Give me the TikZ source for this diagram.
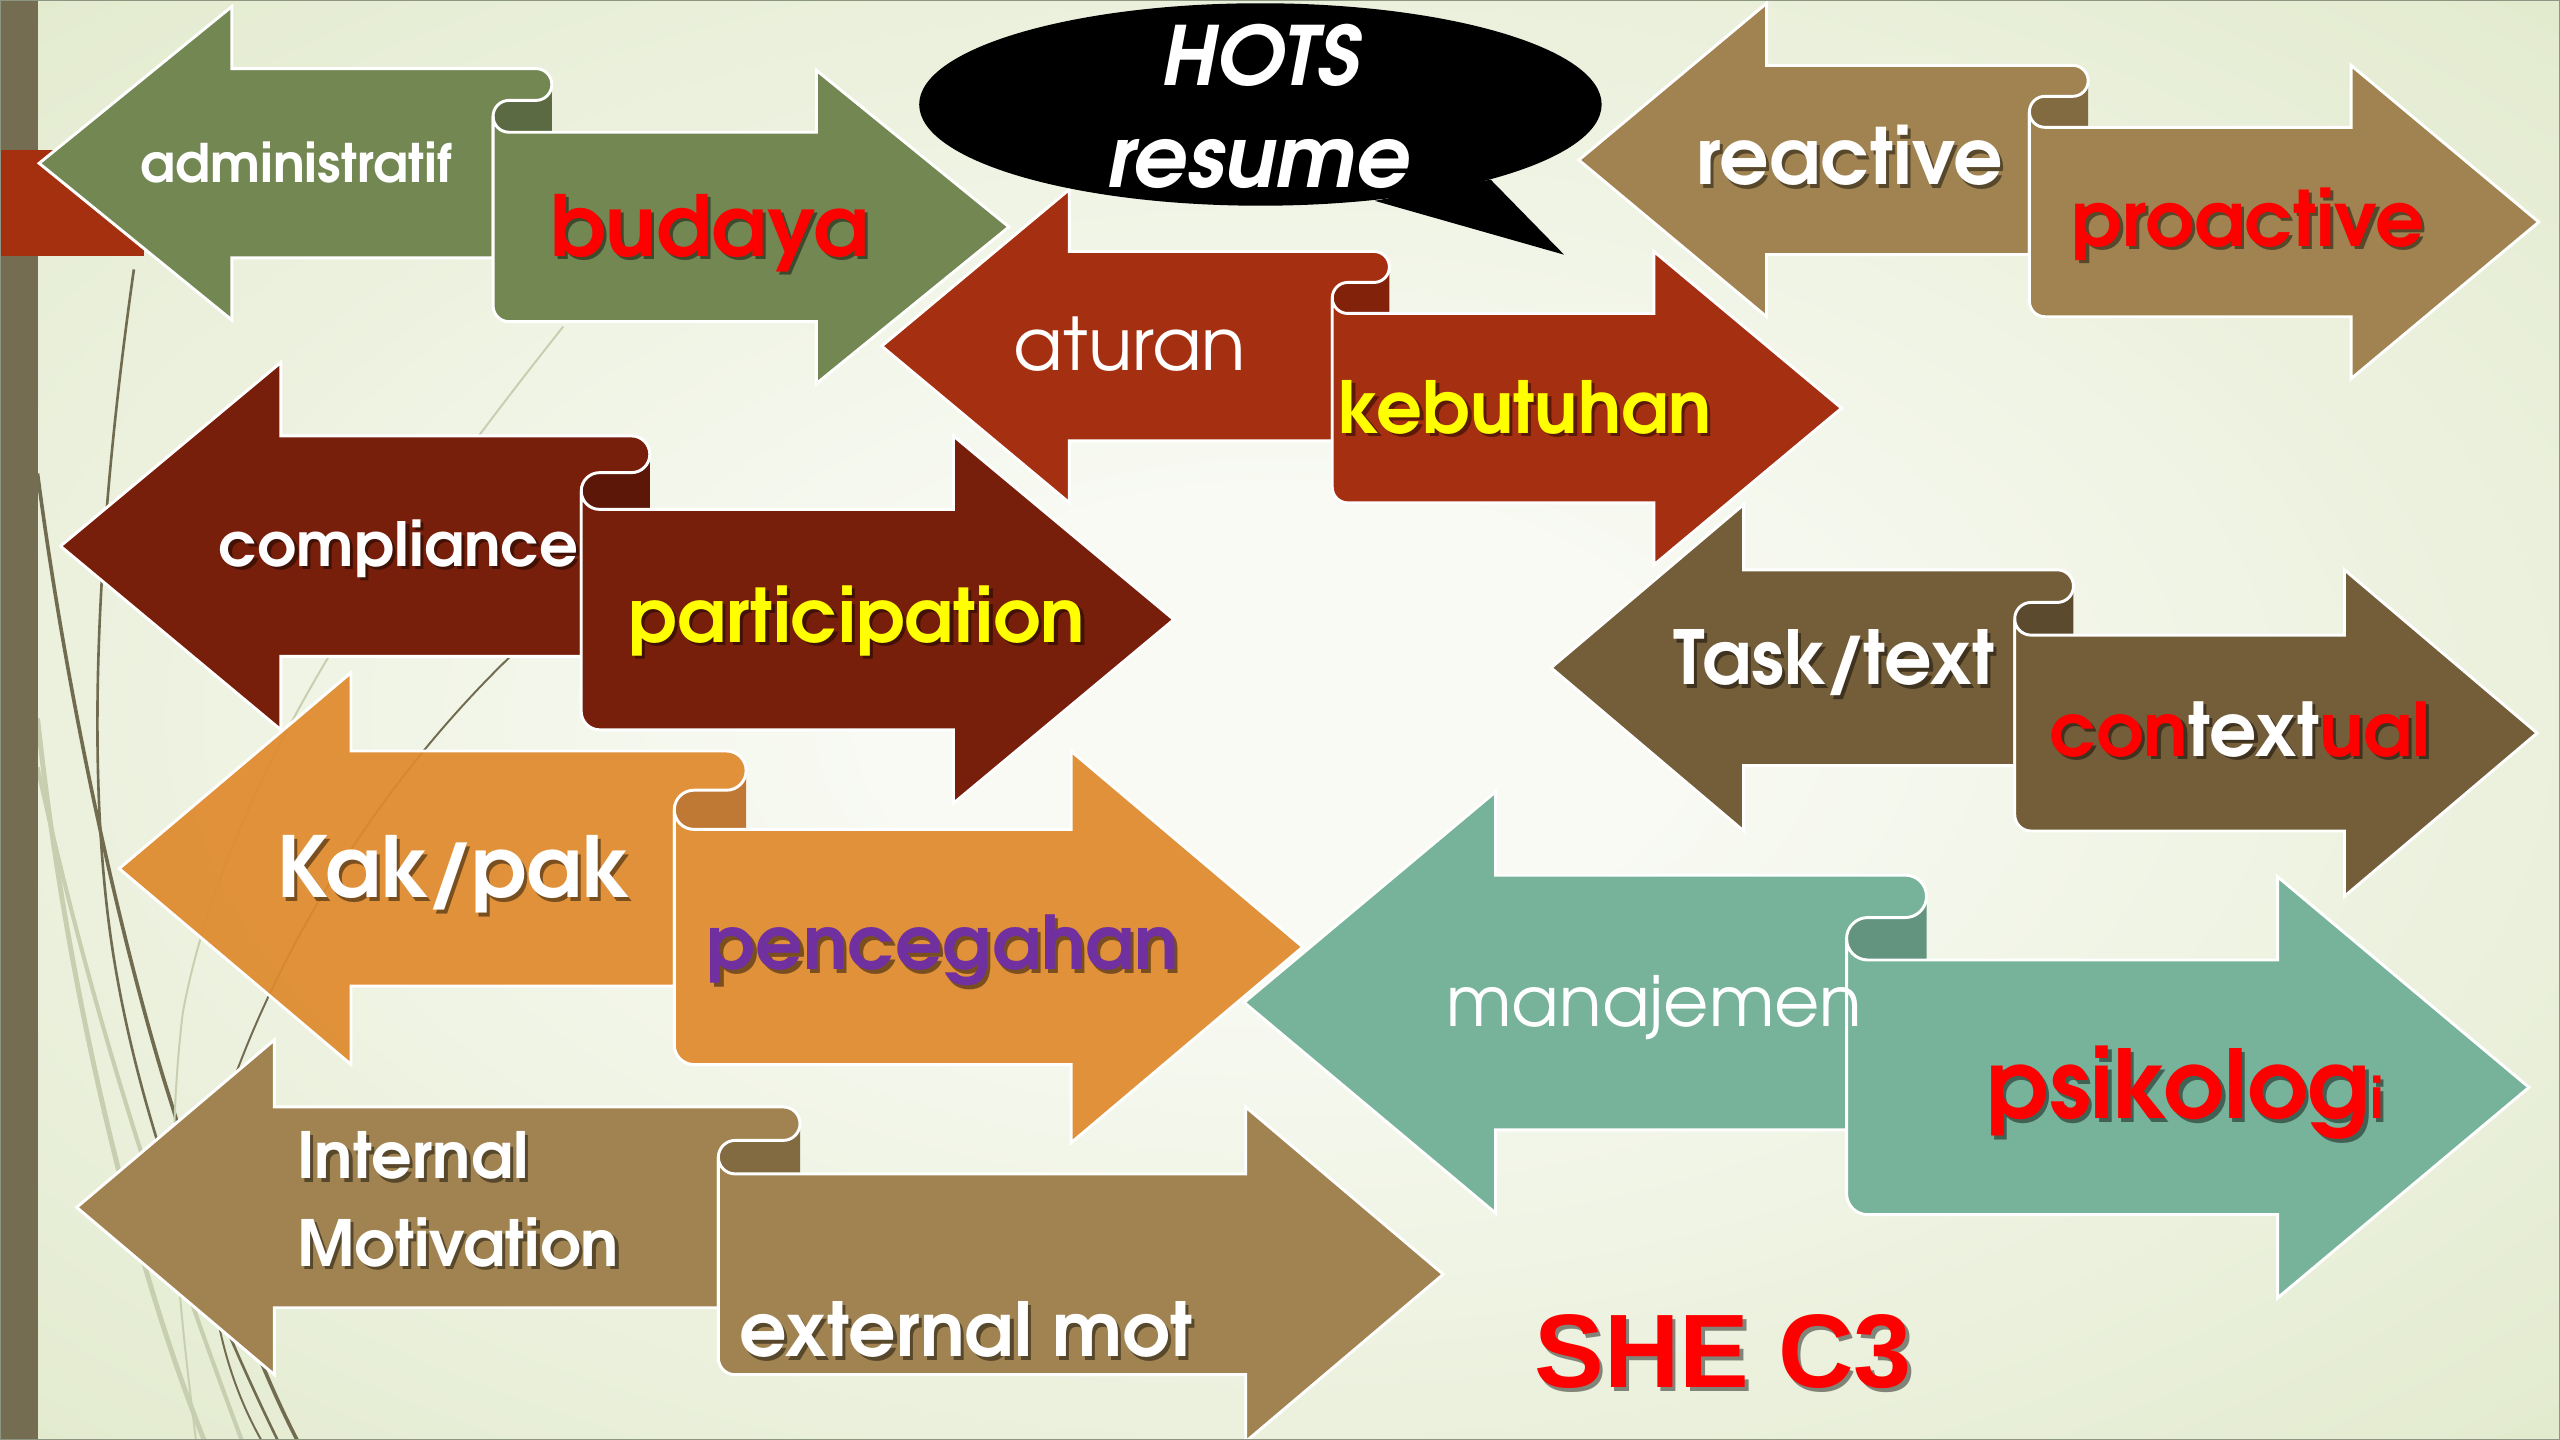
\documentclass[tikz,border=0pt]{standalone}
\usepackage{fontspec}
\setmainfont{texgyreadventor}[Extension=.otf, UprightFont=*-regular, BoldFont=*-bold, ItalicFont=*-italic, BoldItalicFont=*-bolditalic]
\newfontfamily\arialfont{Liberation Sans}

% palette
\definecolor{bgin}{HTML}{F8FAF3}
\definecolor{bgout}{HTML}{DFE8C8}
\definecolor{band}{HTML}{756D52}
\definecolor{tabred}{HTML}{A5300F}
\definecolor{wispdark}{HTML}{716B50}
\definecolor{wisplight}{HTML}{C8CEB0}
\definecolor{grnF}{HTML}{738753}\definecolor{grnB}{HTML}{5B6A42}
\definecolor{rstF}{HTML}{A52F11}\definecolor{rstB}{HTML}{82220B}
\definecolor{marF}{HTML}{781F0B}\definecolor{marB}{HTML}{5C1708}
\definecolor{orgF}{HTML}{DF8A2D}\definecolor{orgB}{HTML}{BC7026}
\definecolor{tanF}{HTML}{A08350}\definecolor{tanB}{HTML}{826A41}
\definecolor{brnF}{HTML}{745E39}\definecolor{brnB}{HTML}{5B4A2E}
\definecolor{tealF}{HTML}{77B29A}\definecolor{tealB}{HTML}{62947F}
\definecolor{txtred}{HTML}{FF0000}
\definecolor{txtyel}{HTML}{FFFF00}
\definecolor{txtpur}{HTML}{7030A0}
\definecolor{frame}{HTML}{8C9680}
\colorlet{pf}{grnF}\colorlet{pb}{grnB}

\pgfdeclareradialshading{bgshade}{\pgfpoint{0bp}{0bp}}{color(0bp)=(bgin); color(8bp)=(bgin); color(40bp)=(bgout); color(50bp)=(bgout)}

\tikzset{
  pairfront/.style={fill=pf, fill opacity=\pairop, draw=white, line width=1.8pt, line join=miter},
  pairback/.style={fill=pb, fill opacity=\pairop},
  lbl/.style={inner sep=0pt, outer sep=0pt, anchor=base west},
  shadowed/.style={text=black, text opacity=0.45},
}
\def\pairop{1}

% Opposing arrow pair joined by a rolled scroll:
% #1 left tip x, #2 head length, #3 roll left x, #4 cap right x,
% #5 right head base x, #6 left shaft top y, #7 shaft height,
% #8 vertical offset of the right shaft, #9 head overhang
\newcommand\ScrollPair[9]{%
  \pgfmathsetmacro\pXl{#1}%
  \pgfmathsetmacro\pXlh{#1+#2}%
  \pgfmathsetmacro\pXc{#3}%
  \pgfmathsetmacro\pXr{#4}%
  \pgfmathsetmacro\pXrh{#5}%
  \pgfmathsetmacro\pXt{#5+#2}%
  \pgfmathsetmacro\pYa{#6}%
  \pgfmathsetmacro\pYb{#6+#7}%
  \pgfmathsetmacro\pYm{#6+#7/2}%
  \pgfmathsetmacro\pYc{#6+#8}%
  \pgfmathsetmacro\pYd{#6+#8+#7}%
  \pgfmathsetmacro\pYn{#6+#8+#7/2}%
  \pgfmathsetmacro\pR{#8/4}%
  \pgfmathsetmacro\pE{#9}%
  % inside of the roll
  \path[pairback] ({\pXc+\pR},{\pYa+2*\pR}) arc[start angle=-90,end angle=-270,radius=\pR]
     -- (\pXr,\pYc) -- (\pXr,{\pYa+\pR}) arc[start angle=0,end angle=90,radius=\pR] -- cycle;
  % left-pointing arrow with its rolled end
  \path[pairfront] (\pXl,\pYm) -- (\pXlh,{\pYa-\pE}) -- (\pXlh,\pYa)
     -- ({\pXr-\pR},\pYa) arc[start angle=-90,end angle=90,radius=\pR]
     -- ({\pXc+\pR},{\pYa+2*\pR}) arc[start angle=-90,end angle=-180,radius=\pR]
     -- (\pXc,\pYb) -- (\pXlh,\pYb) -- (\pXlh,{\pYb+\pE}) -- cycle;
  % right-pointing arrow
  \path[pairfront] (\pXc,{\pYa+3*\pR}) -- (\pXc,{\pYd-\pR}) arc[start angle=180,end angle=90,radius=\pR]
     -- (\pXrh,\pYd) -- (\pXrh,{\pYd+\pE}) -- (\pXt,\pYn) -- (\pXrh,{\pYc-\pE}) -- (\pXrh,\pYc)
     -- ({\pXc+\pR},\pYc) arc[start angle=90,end angle=180,radius=\pR] -- cycle;
}

% text with a soft drop shadow: name, x, y, style, text
\newcommand\ShText[5]{%
  \node[lbl,#4,shadowed] (#1-shadow) at ({#2+2},{#3+2}) {#5};
  \node[lbl,#4] (#1) at (#2,#3) {#5};
}

\begin{document}
\begin{tikzpicture}[x=1pt,y=-1pt]
\useasboundingbox (0,0) rectangle (1568,882);

% background
\shade[shading=bgshade] (0,0) rectangle (1568,882);

% wisps along the left side
\draw[wispdark, line width=1.6pt] (82,165) .. controls (60,320) and (50,480) .. (72,600) .. controls (90,700) and (130,800) .. (170,882);
\draw[wispdark, line width=2.2pt] (23,290) .. controls (40,420) and (70,560) .. (100,660) .. controls (125,740) and (150,820) .. (182,882);
\draw[wisplight, line width=3pt] (23,440) .. controls (40,600) and (80,770) .. (125,882);
\draw[wisplight, line width=2.5pt] (23,470) .. controls (60,640) and (110,780) .. (148,882);
\draw[wisplight, line width=1.2pt] (345,200) .. controls (250,320) and (140,470) .. (112,620) .. controls (100,720) and (110,800) .. (120,882);
\draw[wispdark, line width=1.2pt] (320,395) .. controls (240,470) and (175,570) .. (140,670) .. controls (120,740) and (125,820) .. (160,882);

% side band and tab
\fill[band] (0,0) rectangle (23,882);
\fill[tabred] (0,92) rectangle (88,157);

% arrow pairs
\colorlet{pf}{grnF}\colorlet{pb}{grnB}
\ScrollPair{24}{118}{302}{338}{500}{42}{116}{39}{38}
\colorlet{pf}{rstF}\colorlet{pb}{rstB}
\ScrollPair{540}{115}{816}{851}{1013}{154}{116}{38}{38}
\colorlet{pf}{marF}\colorlet{pb}{marB}
\ScrollPair{37}{135}{356}{398}{584}{267}{135}{45}{45}
\def\pairop{0.93}
\colorlet{pf}{orgF}\colorlet{pb}{orgB}
\ScrollPair{73}{142}{413}{457}{656}{460}{144}{48}{48}
\def\pairop{1}
\colorlet{pf}{tanF}\colorlet{pb}{tanB}
\ScrollPair{47}{121}{440}{490}{763}{678}{123}{41}{41}
\colorlet{pf}{tanF}\colorlet{pb}{tanB}
\ScrollPair{967}{115}{1243}{1279}{1440}{40}{116}{38}{38}
\colorlet{pf}{brnF}\colorlet{pb}{brnB}
\ScrollPair{950}{118}{1234}{1270}{1436}{349}{120}{40}{40}
\colorlet{pf}{tealF}\colorlet{pb}{tealB}
\ScrollPair{762}{154}{1131}{1180}{1395}{536}{156}{52}{51}

% speech bubble
\fill[black] (913,110) -- (958,156) -- (842,123) -- cycle;
\fill[black] (772,64) ellipse [x radius=209, y radius=62];
\node[inner sep=0pt, anchor=base, text=white, font=\fontsize{50}{54}\selectfont\bfseries\itshape] (hots) at (772,52.5) {HOTS};
\node[inner sep=0pt, anchor=base, text=white, font=\fontsize{52}{56}\selectfont\bfseries\itshape] (resume) at (771,115) {resume};

% labels
\node[lbl, text=white, font=\fontsize{32.5}{36}\selectfont\bfseries] (administratif) at (86,112) {administratif};
\ShText{budaya}{337}{157}{text=txtred, font=\fontsize{51.5}{55}\selectfont\bfseries}{budaya}
\node[lbl, text=white, font=\fontsize{44.5}{48}\selectfont] (aturan) at (621,227) {aturan};
\ShText{kebutuhan}{820}{265.5}{text=txtyel, font=\fontsize{44}{48}\selectfont\bfseries}{kebutuhan}
\ShText{compliance}{134}{347}{text=white, font=\fontsize{37.3}{41}\selectfont\bfseries}{compliance}
\ShText{participation}{385}{393.5}{text=txtyel, font=\fontsize{45.3}{49}\selectfont\bfseries}{participation}
\ShText{kakpak}{170}{550}{text=white, font=\fontsize{51.5}{55}\selectfont\bfseries}{Kak\kern-2pt/\kern-2pt pak}
\ShText{pencegahan}{433}{594}{text=txtpur, font=\fontsize{45.4}{49}\selectfont\bfseries}{pencegahan}
\ShText{internal}{182}{722}{text=white, font=\fontsize{39}{43}\selectfont\bfseries}{Internal}
\ShText{motivation}{182}{775.5}{text=white, font=\fontsize{39}{43}\selectfont\bfseries}{Motivation}
\ShText{externalmot}{453}{831}{text=white, font=\fontsize{45.6}{49}\selectfont\bfseries}{external mot}
\ShText{reactive}{1039}{113.3}{text=white, font=\fontsize{47.5}{51}\selectfont\bfseries}{reactive}
\ShText{proactive}{1269}{151}{text=txtred, font=\fontsize{46.8}{50}\selectfont\bfseries}{proactive}
\ShText{tasktext}{1025}{419.5}{text=white, font=\fontsize{45.6}{49}\selectfont\bfseries}{Task\kern-2pt/\kern-2pt text}
\node[lbl, shadowed, font=\fontsize{45.4}{49}\selectfont\bfseries] (contextual-shadow) at (1257,465.4) {contextual};
\node[lbl, font=\fontsize{45.4}{49}\selectfont\bfseries] (contextual) at (1255,463.4)
  {\textcolor{txtred}{con}\textcolor{white}{text}\textcolor{txtred}{ual}};
\node[lbl, text=white, font=\fontsize{42.7}{46}\selectfont] (manajemen) at (886,628.8) {manajemen};
\ShText{psikologi}{1216.8}{685.3}{text=txtred, font=\bfseries}{{\fontsize{58}{62}\selectfont psikolog}{\fontsize{34}{38}\selectfont i}}
\ShText{shec3}{940}{850}{text=txtred, font=\arialfont\fontsize{64}{68}\selectfont\bfseries}{SHE C3}

% slide frame
\draw[frame, line width=1.2pt] (0,0) rectangle (1568,882);
\end{tikzpicture}
\end{document}
